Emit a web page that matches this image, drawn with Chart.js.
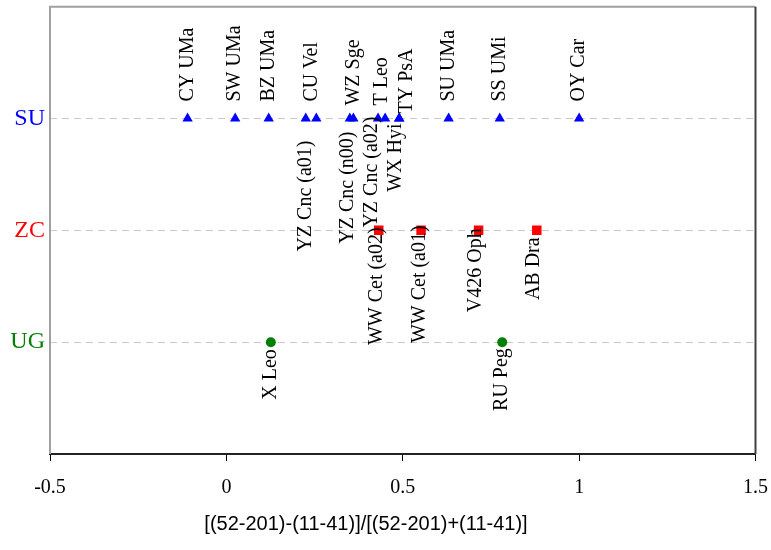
<!DOCTYPE html>
<html><head><meta charset="utf-8">
<script src="https://cdn.jsdelivr.net/npm/chart.js@4/dist/chart.umd.min.js"></script>
<style>html,body{margin:0;padding:0;background:#fff;}#wrap{width:771px;height:550px;}</style>
</head><body><div id="wrap"><canvas id="c" width="771" height="550"></canvas></div>
<script>
// ---- data ----
const categories = ['UG', 'ZC', 'SU'];
const categoryLevels = [1, 2, 3];
const categoryColors = ['#008000', '#ff0000', '#0000ff'];
const xTicks = [-0.5, 0, 0.5, 1, 1.5];
const xTitle = '[(52-201)-(11-41)]/[(52-201)+(11-41)]';

const suNames = ['CY UMa', 'SW UMa', 'BZ UMa', 'YZ Cnc (a01)', 'CU Vel', 'YZ Cnc (n00)', 'WZ Sge', 'YZ Cnc (a02)', 'T Leo', 'WX Hyi', 'TY PsA', 'SU UMa', 'SS UMi', 'OY Car'];
const suValues = [-0.11, 0.025, 0.12, 0.225, 0.255, 0.35, 0.36, 0.43, 0.45, 0.49, 0.49, 0.63, 0.775, 1.0];

const zcNames = ['WW Cet (a02)', 'WW Cet (a01)', 'V426 Oph', 'AB Dra'];
const zcValues = [0.432, 0.552, 0.715, 0.88];

const ugNames = ['X Leo', 'RU Peg'];
const ugValues = [0.126, 0.782];

// ---- label placement (style) ----
const labelStyle = {
  'CY UMa': {side: 'above', gap: 17}, 'SW UMa': {side: 'above', gap: 17}, 'BZ UMa': {side: 'above', gap: 17},
  'CU Vel': {side: 'above', gap: 17, dx: -5}, 'WZ Sge': {side: 'above', gap: 13}, 'T Leo': {side: 'above', gap: 13, dx: -3},
  'TY PsA': {side: 'above', gap: 5, dx: 8}, 'SU UMa': {side: 'above', gap: 17}, 'SS UMi': {side: 'above', gap: 17},
  'OY Car': {side: 'above', gap: 17},
  'YZ Cnc (a01)': {side: 'below', gap: 22}, 'YZ Cnc (n00)': {side: 'below', gap: 13, dx: -2},
  'YZ Cnc (a02)': {side: 'below', gap: -2, dx: -6}, 'WX Hyi': {side: 'below', gap: 5, dx: -3},
  'WW Cet (a02)': {side: 'below', gap: -3, dx: -2}, 'WW Cet (a01)': {side: 'below', gap: -5, dx: -1},
  'V426 Oph': {side: 'below', gap: -2, dx: -3}, 'AB Dra': {side: 'below', gap: 7, dx: -3},
  'X Leo': {side: 'below', gap: 7}, 'RU Peg': {side: 'below', gap: 6}
};
const titleStyle = {x: 366, y: 524, size: 20};

const serif = '"Liberation Serif", "Times New Roman", serif';
const sans = '"Liberation Sans", Arial, sans-serif';

const pointLabels = {
  id: 'pointLabels',
  afterDatasetsDraw(chart) {
    const ctx = chart.ctx;
    ctx.save();
    ctx.font = '20px ' + serif;
    ctx.fillStyle = '#000';
    ctx.textBaseline = 'middle';
    chart.data.datasets.forEach((ds, di) => {
      const meta = chart.getDatasetMeta(di);
      meta.data.forEach((el, i) => {
        const name = ds.names[i];
        const st = labelStyle[name] || {side: 'above', gap: 17};
        ctx.save();
        ctx.translate(el.x + (st.dx || 0), el.y);
        ctx.rotate(-Math.PI / 2);
        if (st.side === 'above') { ctx.textAlign = 'left'; ctx.fillText(name, st.gap, 0); }
        else { ctx.textAlign = 'right'; ctx.fillText(name, -st.gap, 0); }
        ctx.restore();
      });
    });
    ctx.restore();
  },
  afterDraw(chart) {
    const ctx = chart.ctx;
    ctx.save();
    ctx.font = titleStyle.size + 'px ' + sans;
    ctx.fillStyle = '#000';
    ctx.textAlign = 'center';
    ctx.textBaseline = 'middle';
    ctx.fillText(xTitle, titleStyle.x, titleStyle.y);
    ctx.restore();
  }
};

const frame = {
  id: 'frame',
  beforeDatasetsDraw(chart) {
    const {ctx, chartArea: a} = chart;
    ctx.save();
    ctx.lineWidth = 2;
    ctx.strokeStyle = '#a0a0a0';
    ctx.beginPath();
    ctx.moveTo(a.left, a.bottom); ctx.lineTo(a.left, a.top); ctx.lineTo(a.right, a.top);
    ctx.stroke();
    ctx.strokeStyle = '#404040';
    ctx.beginPath();
    ctx.moveTo(a.right, a.top); ctx.lineTo(a.right, a.bottom);
    ctx.stroke();
    ctx.restore();
  }
};

const toXY = (vals, level) => vals.map(v => ({x: v, y: level}));

new Chart(document.getElementById('c'), {
  type: 'scatter',
  data: {
    datasets: [
      {label: 'SU', names: suNames, data: toXY(suValues, 3), pointStyle: 'triangle', pointRadius: 6,
       backgroundColor: '#0000ff', borderColor: '#0000ff', borderWidth: 0},
      {label: 'ZC', names: zcNames, data: toXY(zcValues, 2), pointStyle: 'rect', pointRadius: 6.7,
       backgroundColor: '#ff0000', borderColor: '#ff0000', borderWidth: 0},
      {label: 'UG', names: ugNames, data: toXY(ugValues, 1), pointStyle: 'circle', pointRadius: 5,
       backgroundColor: '#008000', borderColor: '#008000', borderWidth: 0}
    ]
  },
  options: {
    responsive: false,
    animation: false,
    devicePixelRatio: 1,
    events: [],
    layout: {padding: {top: 2, right: 15.5, left: 0, bottom: 0}},
    plugins: {legend: {display: false}, tooltip: {enabled: false}},
    scales: {
      x: {
        type: 'linear', min: -0.5, max: 1.5,
        afterBuildTicks: s => { s.ticks = xTicks.map(v => ({value: v})); },
        afterFit: s => { s.height = 96; s.paddingLeft = 0; s.paddingRight = 0; },
        grid: {drawOnChartArea: false, drawTicks: true, tickLength: 7, color: '#000', lineWidth: 1},
        border: {display: true, color: '#222', width: 2},
        ticks: {color: '#000', padding: 15, maxRotation: 0, font: {family: serif, size: 20},
                callback: v => String(v)},
        title: {display: false, text: xTitle}
      },
      y: {
        type: 'linear', min: 0, max: 4,
        afterBuildTicks: s => { s.ticks = categoryLevels.map(v => ({value: v})); },
        afterFit: s => { s.width = 50; s.paddingTop = 0; s.paddingBottom = 0; },
        grid: {drawTicks: false, color: '#c8c8c8', lineWidth: 1},
        border: {display: false, dash: [7, 5]},
        ticks: {padding: 5, font: {family: serif, size: 24},
                color: c => categoryColors[categoryLevels.indexOf(c.tick.value)],
                callback: v => categories[categoryLevels.indexOf(v)]}
      }
    }
  },
  plugins: [frame, pointLabels]
});
</script>
</body></html>
